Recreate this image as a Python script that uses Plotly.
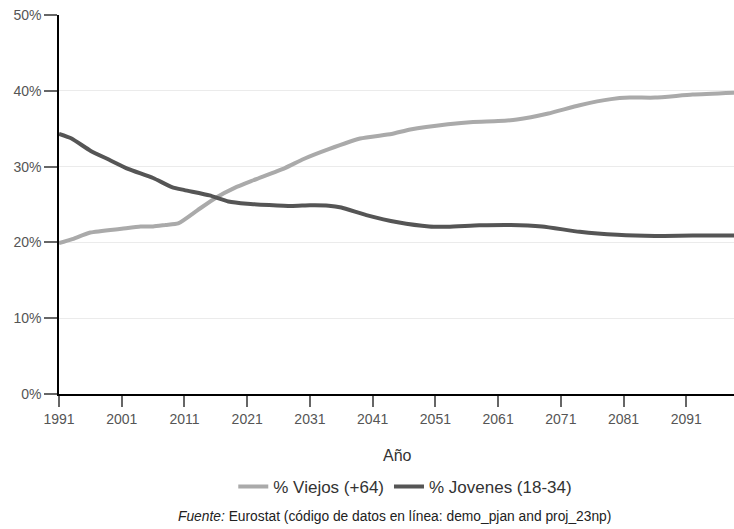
import plotly.graph_objects as go

years_viejos = [1991, 1993, 1996, 2001, 2004, 2006, 2008, 2010, 2013, 2016, 2019, 2022, 2027, 2030, 2034, 2039, 2044, 2047, 2053, 2057, 2061, 2064, 2069, 2074, 2079, 2082, 2086, 2092, 2100]
viejos = [19.9, 20.4, 21.3, 21.8, 22.1, 22.1, 22.3, 22.5, 24.2, 25.9, 27.2, 28.2, 29.8, 31.0, 32.3, 33.7, 34.3, 34.9, 35.6, 35.9, 36.0, 36.2, 37.0, 38.1, 38.9, 39.1, 39.1, 39.5, 39.8]

years_jovenes = [1991, 1993, 1996, 1999, 2002, 2006, 2009, 2011, 2015, 2018, 2021, 2028, 2031, 2034, 2036, 2040, 2045, 2050, 2053, 2058, 2063, 2068, 2074, 2080, 2086, 2092, 2100]
jovenes = [34.3, 33.7, 32.1, 30.9, 29.7, 28.5, 27.3, 26.9, 26.2, 25.4, 25.1, 24.8, 24.9, 24.85, 24.6, 23.6, 22.65, 22.1, 22.07, 22.25, 22.3, 22.1, 21.4, 21.0, 20.85, 20.9, 20.9]

x_ticks = [1991, 2001, 2011, 2021, 2031, 2041, 2051, 2061, 2071, 2081, 2091]
y_ticks = [0, 10, 20, 30, 40, 50]
y_labels = [f"{v}%" for v in y_ticks]

font = "Liberation Sans, Arial, sans-serif"

fig = go.Figure()
fig.add_trace(go.Scatter(x=years_viejos, y=viejos, mode="lines", name="% Viejos (+64)",
                         line=dict(color="#aaaaaa", width=4, shape="spline", smoothing=0.5)))
fig.add_trace(go.Scatter(x=years_jovenes, y=jovenes, mode="lines", name="% Jovenes (18-34)",
                         line=dict(color="#555555", width=4, shape="spline", smoothing=0.5)))

fig.update_layout(
    width=734, height=529,
    margin=dict(l=59, r=0, t=15, b=135),
    plot_bgcolor="white", paper_bgcolor="white",
    font=dict(family=font, color="#555555", size=14),
    showlegend=True,
    legend=dict(orientation="h", x=0.513, xanchor="center", y=-0.245, yanchor="middle",
                font=dict(size=17, color="#333333"), itemwidth=30),
    xaxis=dict(range=[1991, 2098.6], tickvals=x_ticks, ticks="outside", ticklen=11,
               tickcolor="#666666", tickwidth=1.5, showline=True, linecolor="black", linewidth=1.5,
               showgrid=False, zeroline=False, tickfont=dict(size=14, color="#555555")),
    yaxis=dict(range=[0, 50], tickvals=y_ticks, ticktext=y_labels, ticks="outside", ticklen=13,
               tickcolor="#666666", tickwidth=1.5, showline=True, linecolor="black", linewidth=1.5,
               showgrid=True, gridcolor="#ebebeb", gridwidth=1, zeroline=False,
               tickfont=dict(size=14, color="#555555")),
    annotations=[
        dict(text="Año", x=0.502, y=-0.161, xref="paper", yref="paper", showarrow=False,
             xanchor="center", yanchor="middle", font=dict(size=16, color="#333333")),
        dict(text="<i>Fuente:</i> Eurostat (código de datos en línea: demo_pjan and proj_23np)",
             x=0.497, y=-0.322, xref="paper", yref="paper", showarrow=False,
             xanchor="center", yanchor="middle", font=dict(size=13.8, color="#222222")),
    ],
)

fig.write_html("out.html", config={"displayModeBar": False},
               post_script="document.body.style.margin='0';document.body.style.overflow='hidden';")
